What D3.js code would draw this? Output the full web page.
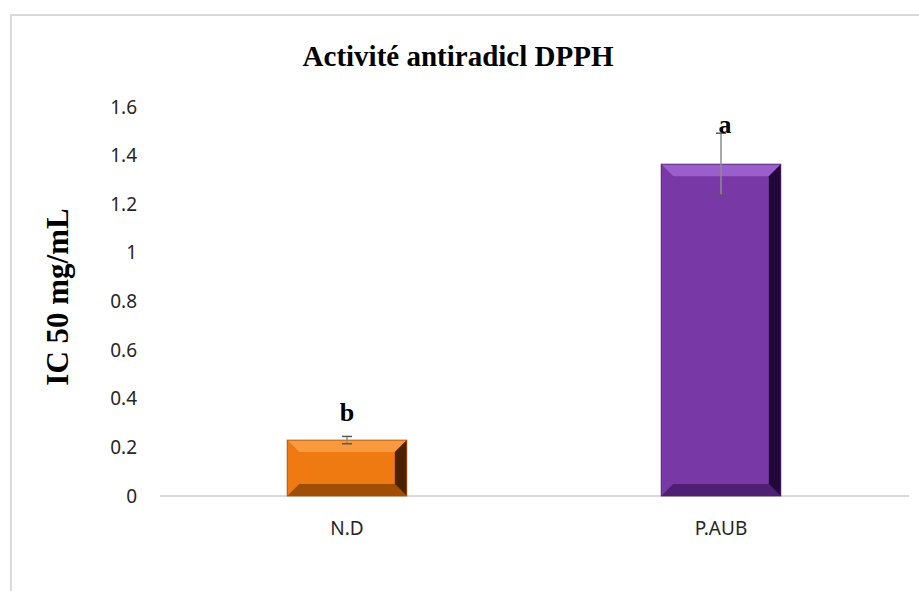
<!DOCTYPE html>
<html><head><meta charset="utf-8">
<script src="https://cdn.jsdelivr.net/npm/d3@7"></script>
<style>body{margin:0;background:#fff}svg{display:block}</style>
</head><body>
<script>
const categories = ["N.D", "P.AUB"];
const values = [0.23, 1.365];
const errors = [0.015, 0.127];
const letters = ["b", "a"];
const yTicks = [0, 0.2, 0.4, 0.6, 0.8, 1, 1.2, 1.4, 1.6];
const colors = [
  {main:"#F07A12", light:"#F99A3E", dark:"#A04E05", darker:"#4A2200"},
  {main:"#7838A6", light:"#9B5FCB", dark:"#4E1F72", darker:"#220838"}
];

const W = 919, H = 591;
const svg = d3.select("body").append("svg").attr("width", W).attr("height", H);

// frame
svg.append("path").attr("d","M11,591 L11,15 L919,15").attr("fill","none").attr("stroke","#d9d9d9").attr("stroke-width",2);

const x = d3.scaleBand().domain(categories).range([160, 908]).paddingInner(0.68).paddingOuter(0.34);
const y = d3.scaleLinear().domain([0, 1.6]).range([496, 107]);

// title
svg.append("text").attr("x", 458).attr("y", 66).attr("text-anchor","middle")
  .style("font-family","'Liberation Serif','Times New Roman',serif").style("font-weight","bold").style("font-size","29px")
  .text("Activité antiradicl DPPH");

// y axis label
svg.append("text").attr("transform","translate(68,297) rotate(-90)").attr("text-anchor","middle")
  .style("font-family","'Liberation Serif','Times New Roman',serif").style("font-weight","bold").style("font-size","31px")
  .text("IC 50 mg/mL");

// y axis (labels only)
const yAxis = svg.append("g").attr("transform","translate(160,0)")
  .call(d3.axisLeft(y).tickValues(yTicks).tickSize(0).tickPadding(23).tickFormat(d => d3.format("")(d)));
yAxis.select(".domain").remove();
yAxis.selectAll("text").style("font-family","'Noto Sans','Open Sans',sans-serif").style("font-size","19px").attr("fill","#262626");

// baseline
svg.append("line").attr("x1",160).attr("x2",909).attr("y1",y(0)).attr("y2",y(0)).attr("stroke","#d9d9d9").attr("stroke-width",2);

// x axis labels
const xAxis = svg.append("g").attr("transform",`translate(0,${y(0)})`)
  .call(d3.axisBottom(x).tickSize(0).tickPadding(26));
xAxis.select(".domain").remove();
xAxis.selectAll("text").style("font-family","'Noto Sans','Open Sans',sans-serif").style("font-size","19px").attr("fill","#262626");

// bars with bevel
const bev = 12;
categories.forEach((c, i) => {
  const x0 = x(c), x1 = x(c) + x.bandwidth(), y0 = y(values[i]), y1 = y(0);
  const col = colors[i];
  const g = svg.append("g");
  const b = Math.min(bev, (y1 - y0) / 2.2);
  g.append("rect").attr("x",x0).attr("y",y0).attr("width",x1-x0).attr("height",y1-y0).attr("fill",col.main);
  g.append("path").attr("d",`M${x0},${y0} L${x1},${y0} L${x1-b},${y0+b} L${x0+b},${y0+b} Z`).attr("fill",col.light);
  g.append("path").attr("d",`M${x0},${y0} L${x0+b},${y0+b} L${x0+b},${y1-b} L${x0},${y1} Z`).attr("fill",col.main).attr("opacity",0.9);
  g.append("path").attr("d",`M${x0},${y1} L${x0+b},${y1-b} L${x1-b},${y1-b} L${x1},${y1} Z`).attr("fill",col.dark);
  g.append("path").attr("d",`M${x1},${y0} L${x1-b},${y0+b} L${x1-b},${y1-b} L${x1},${y1} Z`).attr("fill",col.darker);
  g.append("rect").attr("x",x0).attr("y",y0).attr("width",x1-x0).attr("height",y1-y0).attr("fill","none").attr("stroke",col.dark).attr("stroke-width",0.8);

  const cx = x0 + x.bandwidth()/2;
  const eg = svg.append("g").attr("stroke","#595959").attr("stroke-width",1.5);
  eg.append("line").attr("x1",cx).attr("x2",cx).attr("y1",y(values[i]+errors[i])).attr("y2",y(values[i]-errors[i])).attr("stroke","#8c8c8c");
  [values[i]+errors[i], values[i]-errors[i]].forEach(v => {
    eg.append("line").attr("x1",cx-5).attr("x2",cx+5).attr("y1",y(v)).attr("y2",y(v));
  });

  svg.append("text").attr("x", cx + (i===1?4:0)).attr("y", i===0 ? y(values[i]+errors[i]) - 15 : y(values[i]+errors[i]))
    .attr("text-anchor","middle")
    .style("font-family","'Liberation Serif','Times New Roman',serif").style("font-weight","bold").style("font-size","26px")
    .text(letters[i]);
});
</script>
</body></html>
